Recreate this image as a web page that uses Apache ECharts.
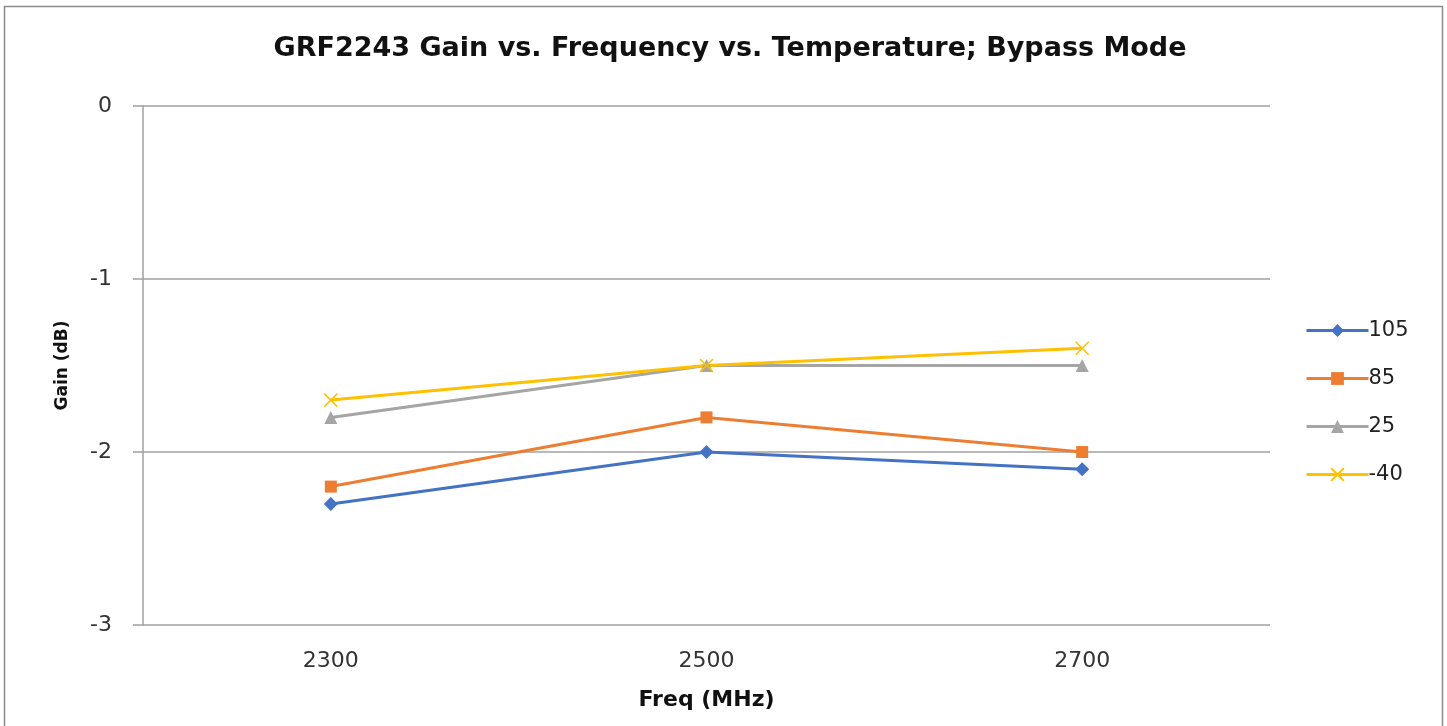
<!DOCTYPE html>
<html>
<head>
<meta charset="utf-8">
<script src="https://cdn.jsdelivr.net/npm/echarts@6/dist/echarts.min.js"></script>
<style>html,body{margin:0;padding:0;background:#fff;}#c{width:1447px;height:726px;}</style>
</head>
<body>
<div id="c"></div>
<script>
const categories = ['2300', '2500', '2700'];
const seriesNames = ['105', '85', '25', '-40'];
const s105 = [-2.3, -2.0, -2.1];
const s85 = [-2.2, -1.8, -2.0];
const s25 = [-1.8, -1.5, -1.5];
const sM40 = [-1.7, -1.5, -1.4];

const colors = ['#4472C4', '#ED7D31', '#A5A5A5', '#FFC000'];
const font = '"DejaVu Sans", "Liberation Sans", sans-serif';
const chart = echarts.init(document.getElementById('c'));
const crossPath = 'path://M0,0L10,10M10,0L0,10';

function mk(name, data, color, symbol, size, extra) {
  return Object.assign({
    name: name, type: 'line', data: data, symbol: symbol, symbolSize: size,
    lineStyle: {color: color, width: 3},
    itemStyle: {color: color},
    emphasis: {disabled: true}
  }, extra || {});
}

chart.setOption({
  animation: false,
  color: colors,
  graphic: [{
    type: 'rect', shape: {x: 4.5, y: 6.5, width: 1438, height: 730},
    style: {fill: 'none', stroke: '#8c8c8c', lineWidth: 1.5}, silent: true
  }],
  title: {
    text: 'GRF2243 Gain vs. Frequency vs. Temperature; Bypass Mode',
    left: 725, top: 30, textAlign: 'center',
    textStyle: {fontFamily: font, fontSize: 27, fontWeight: 'bold', color: '#111'}
  },
  legend: {
    orient: 'vertical', left: 1300, top: 315, itemWidth: 62, itemHeight: 16, itemGap: 27,
    data: seriesNames,
    lineStyle: {width: 3},
    textStyle: {fontFamily: font, fontSize: 21, color: '#222', padding: [0,0,0,-5]}
  },
  grid: {left: 143, right: 177, top: 106, bottom: 101, containLabel: false},
  xAxis: {
    type: 'category', data: categories, boundaryGap: true,
    name: 'Freq (MHz)', nameLocation: 'middle', nameGap: 64,
    nameTextStyle: {fontFamily: font, fontSize: 22, fontWeight: 'bold', color: '#111'},
    axisLine: {show: false}, axisTick: {show: false},
    axisLabel: {fontFamily: font, fontSize: 22, color: '#333', margin: 25}
  },
  yAxis: {
    type: 'value', min: -3, max: 0, interval: 1,
    name: 'Gain (dB)', nameLocation: 'middle', nameGap: 72, nameRotate: 90,
    nameTextStyle: {fontFamily: font, fontSize: 17, fontWeight: 'bold', color: '#111'},
    axisLine: {show: true, lineStyle: {color: '#a0a0a0', width: 1.5}},
    axisTick: {show: true, length: 10, lineStyle: {color: '#a0a0a0', width: 1.5}},
    splitLine: {show: true, lineStyle: {color: '#a0a0a0', width: 1.5}},
    axisLabel: {fontFamily: font, fontSize: 22, color: '#333', margin: 31}
  },
  series: [
    mk('105', s105, colors[0], 'diamond', 14),
    mk('85', s85, colors[1], 'rect', 12),
    mk('25', s25, colors[2], 'triangle', 13),
    mk('-40', sM40, colors[3], crossPath, 13, {itemStyle: {color: colors[3], borderColor: colors[3], borderWidth: 1.5}})
  ]
});
</script>
</body>
</html>
